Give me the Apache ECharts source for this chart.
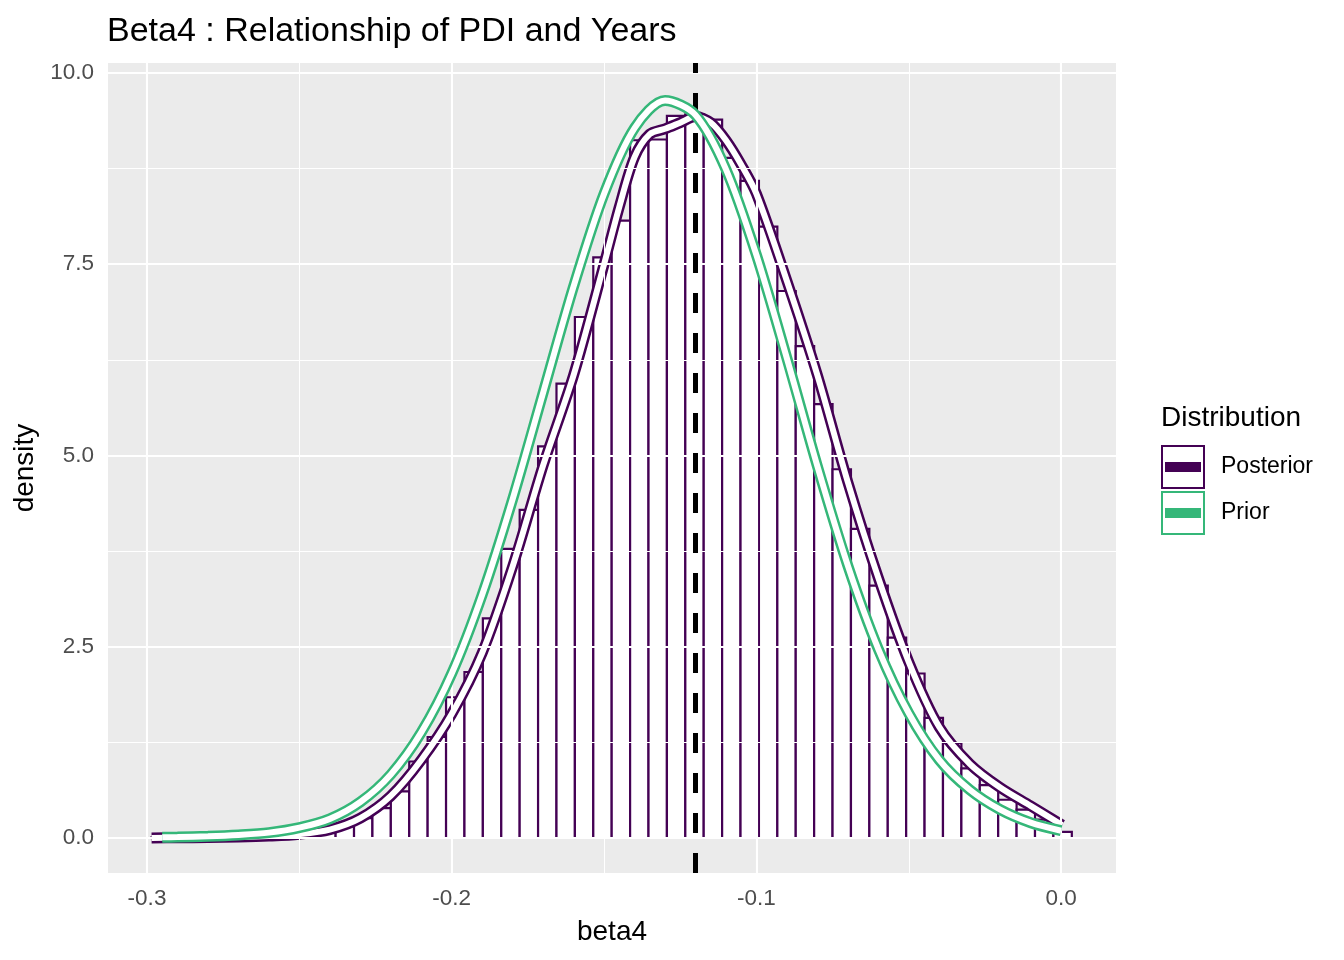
<!doctype html>
<html>
<head>
<meta charset="UTF-8">
<title>beta4 density</title>
<script src="https://cdn.jsdelivr.net/npm/echarts@6.0.0/dist/echarts.min.js"></script>
<style>
    html, body { margin: 0; padding: 0; background: #fff; }
    #main { width: 1344px; height: 960px; }
</style>
</head>
<body>
<div id="main"></div>
<script>
// histogram: 50 bins, densities
var binStart = -0.2985;
var binWidth = 0.00604;
var histDensity = [
    0.01, 0, 0, 0, 0.005, 0.005, 0.01, 0.015, 0.03, 0.07,
    0.15, 0.26, 0.39, 0.61, 1.00, 1.32, 1.84, 2.17, 2.87, 3.78,
    4.29, 5.12, 5.94, 6.81, 7.59, 8.07, 9.12, 9.13, 9.44, 9.46,
    9.39, 8.89, 8.59, 7.99, 7.15, 6.43, 5.67, 4.82, 4.04, 3.30,
    2.62, 2.15, 1.57, 1.24, 0.91, 0.69, 0.50, 0.37, 0.24, 0.08
];

// posterior density curve
var postX = [-0.2985, -0.29, -0.28, -0.27, -0.26, -0.25, -0.24, -0.23, -0.22, -0.21,
    -0.20, -0.19, -0.18, -0.17, -0.16, -0.15, -0.145, -0.14, -0.135, -0.13,
    -0.125, -0.12, -0.115, -0.11, -0.105, -0.10, -0.09, -0.08, -0.07, -0.06,
    -0.05, -0.04, -0.03, -0.02, -0.01, 0.0003];
var postY = [0.0, 0.003, 0.006, 0.012, 0.025, 0.05, 0.11, 0.26, 0.55, 1.02,
    1.62, 2.42, 3.55, 4.87, 6.05, 7.50, 8.25, 8.90, 9.20, 9.27,
    9.35, 9.43, 9.35, 9.12, 8.80, 8.42, 7.28, 6.05, 4.65, 3.40,
    2.30, 1.45, 0.97, 0.66, 0.42, 0.17];

// prior density curve
var priorX = [-0.295, -0.29, -0.28, -0.27, -0.26, -0.25, -0.24, -0.23, -0.22, -0.21,
    -0.20, -0.19, -0.18, -0.17, -0.16, -0.15, -0.14, -0.13, -0.12, -0.11,
    -0.10, -0.09, -0.08, -0.07, -0.06, -0.05, -0.04, -0.03, -0.02, -0.01, 0.0];
var priorY = [0.01, 0.012, 0.022, 0.04, 0.07, 0.135, 0.25, 0.47, 0.83, 1.38,
    2.15, 3.18, 4.43, 5.82, 7.21, 8.42, 9.28, 9.64, 9.45, 8.74,
    7.62, 6.27, 4.86, 3.56, 2.47, 1.63, 1.02, 0.63, 0.37, 0.20, 0.095];

var postMean = -0.1213;

var xTicks = [-0.3, -0.2, -0.1, 0.0];
var xMinor = [-0.25, -0.15, -0.05];
var yTicks = [0, 2.5, 5, 7.5, 10];
var yMinor = [1.25, 3.75, 6.25, 8.75];

var PURPLE = '#440154';
var GREEN = '#35B779';
var FONT = 'Liberation Sans, Arial, sans-serif';

function zip(xs, ys) {
    return xs.map(function (x, i) { return [x, ys[i]]; });
}

var histData = histDensity.map(function (d, i) {
    return [binStart + i * binWidth, binStart + (i + 1) * binWidth, d];
});

var gridLines = [];
xTicks.forEach(function (v) { gridLines.push({ xAxis: v, lineStyle: { width: 2.1 } }); });
xMinor.forEach(function (v) { gridLines.push({ xAxis: v, lineStyle: { width: 1.05 } }); });
yTicks.forEach(function (v) { gridLines.push({ yAxis: v, lineStyle: { width: 2.1 } }); });
yMinor.forEach(function (v) { gridLines.push({ yAxis: v, lineStyle: { width: 1.05 } }); });

// legend key: coloured frame with a thick bar inside
var keyIcon = 'path://M0 0 H44 V44 H0 Z M2 2 V42 H42 V2 Z M4 17 H40 V27 H4 Z';

var chart = echarts.init(document.getElementById('main'));

var option = {
    animation: false,
    backgroundColor: '#ffffff',
    textStyle: { fontFamily: FONT },
    title: [{
        text: 'Beta4 : Relationship of PDI and Years',
        left: 107,
        top: 15,
        padding: 0,
        textStyle: { fontFamily: FONT, fontSize: 34, fontWeight: 'normal', color: '#000' }
    }, {
        text: 'Distribution',
        left: 1161,
        top: 404,
        padding: 0,
        textStyle: { fontFamily: FONT, fontSize: 28, fontWeight: 'normal', color: '#000' }
    }],
    legend: {
        orient: 'vertical',
        left: 1161,
        top: 445,
        padding: 0,
        itemWidth: 44,
        itemHeight: 44,
        itemGap: 2,
        icon: keyIcon,
        data: ['Posterior', 'Prior'],
        itemStyle: { borderWidth: 0 },
        textStyle: { fontFamily: FONT, fontSize: 23, color: '#000', padding: [6, 0, 0, 11] },
        selectedMode: false
    },
    grid: {
        left: 108,
        right: 228,
        top: 63,
        bottom: 87,
        show: true,
        backgroundColor: '#EBEBEB',
        borderWidth: 0
    },
    xAxis: {
        type: 'value',
        min: -0.3128,
        max: 0.018,
        name: 'beta4',
        nameLocation: 'middle',
        nameGap: 45,
        nameTextStyle: { fontFamily: FONT, fontSize: 28, color: '#000' },
        axisLine: { show: false },
        splitLine: { show: false },
        axisTick: {
            show: true, length: 7, customValues: xTicks,
            lineStyle: { color: '#333333', width: 2 }
        },
        axisLabel: {
            customValues: xTicks, margin: 14,
            fontFamily: FONT, fontSize: 22.5, color: '#4D4D4D',
            formatter: function (v) { return v.toFixed(1); }
        }
    },
    yAxis: {
        type: 'value',
        min: -0.4575,
        max: 10.13,
        name: 'density',
        nameLocation: 'middle',
        nameGap: 58,
        nameTextStyle: { fontFamily: FONT, fontSize: 28, color: '#000' },
        axisLine: { show: false },
        splitLine: { show: false },
        axisTick: {
            show: true, length: 7, customValues: yTicks,
            lineStyle: { color: '#333333', width: 2 }
        },
        axisLabel: {
            customValues: yTicks, margin: 14,
            fontFamily: FONT, fontSize: 22.5, color: '#4D4D4D',
            formatter: function (v) { return v.toFixed(1); }
        }
    },
    series: [{
        name: 'gridlines',
        type: 'line',
        data: [],
        z: 1,
        silent: true,
        markLine: {
            silent: true,
            symbol: 'none',
            label: { show: false },
            lineStyle: { color: '#ffffff', type: 'solid' },
            data: gridLines
        }
    }, {
        name: 'histogram',
        type: 'custom',
        z: 2,
        silent: true,
        data: histData,
        encode: { x: [0, 1], y: 2 },
        renderItem: function (params, api) {
            var p0 = api.coord([api.value(0), api.value(2)]);
            var p1 = api.coord([api.value(1), 0]);
            return {
                type: 'rect',
                shape: { x: p0[0], y: p0[1], width: p1[0] - p0[0], height: p1[1] - p0[1] },
                style: { fill: '#ffffff', stroke: PURPLE, lineWidth: 2.2 }
            };
        }
    }, {
        name: 'Posterior',
        type: 'line',
        z: 3,
        silent: true,
        data: zip(postX, postY),
        showSymbol: false,
        symbol: 'none',
        smooth: 0.3,
        color: PURPLE,
        itemStyle: { color: PURPLE },
        lineStyle: { color: PURPLE, width: 11 }
    }, {
        name: 'posteriorInner',
        type: 'line',
        z: 4,
        silent: true,
        data: zip(postX, postY),
        showSymbol: false,
        symbol: 'none',
        smooth: 0.3,
        lineStyle: { color: '#ffffff', width: 6 }
    }, {
        name: 'Prior',
        type: 'line',
        z: 5,
        silent: true,
        data: zip(priorX, priorY),
        showSymbol: false,
        symbol: 'none',
        smooth: 0.3,
        color: GREEN,
        itemStyle: { color: GREEN },
        lineStyle: { color: GREEN, width: 11 }
    }, {
        name: 'priorInner',
        type: 'line',
        z: 6,
        silent: true,
        data: zip(priorX, priorY),
        showSymbol: false,
        symbol: 'none',
        smooth: 0.3,
        lineStyle: { color: '#ffffff', width: 6 },
        markLine: {
            silent: true,
            symbol: 'none',
            label: { show: false },
            lineStyle: { color: '#000000', width: 5, type: [20, 20] },
            data: [{ xAxis: postMean }]
        }
    }]
};

chart.setOption(option);
</script>
</body>
</html>
